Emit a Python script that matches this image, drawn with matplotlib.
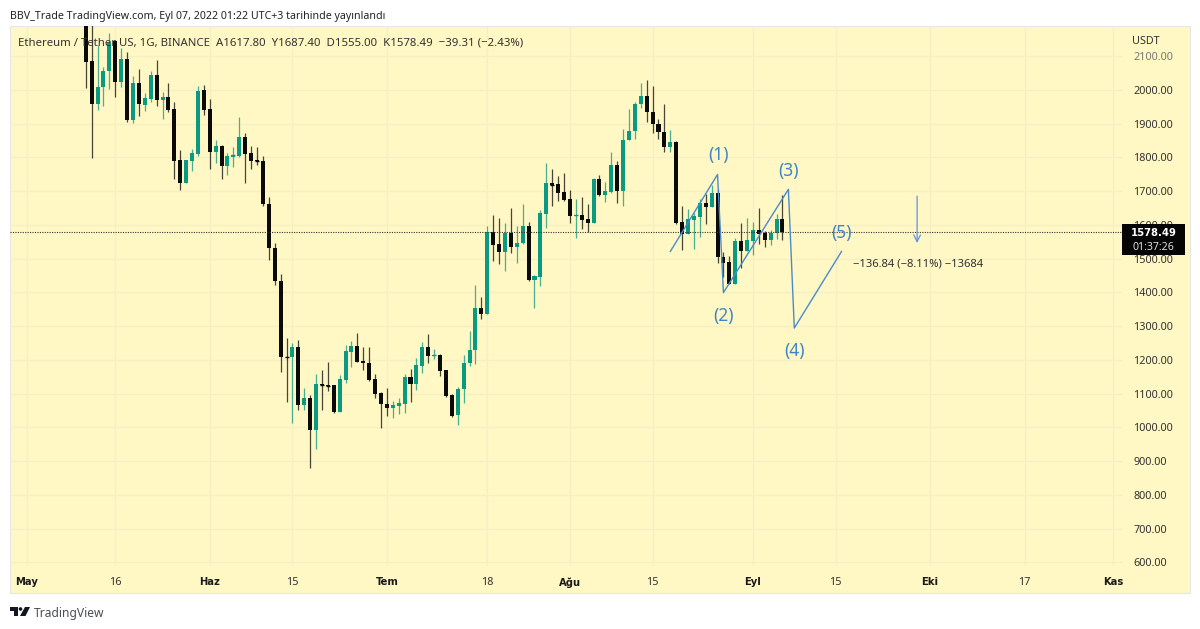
import matplotlib
matplotlib.use("Agg")
import matplotlib.pyplot as plt
from matplotlib.patches import Rectangle, Polygon

plt.rcParams['font.family'] = ['Noto Sans', 'DejaVu Sans']

# Candles: day number counted from 1 May, first visible candle is day 10
first_day = 10
opens = [2340,2085,1959,2008,2057,2144,2022,2090,1910,2019,1956,1973,2043,1971,1979,1942,1791,1724,1790,1810,1998,1942,1816,1832,1773,1802,1804,1859,1812,1791,1789,
 1661,1531,1433,1208,1207,1237,1066,1087,992,1128,1125,1124,1046,1140,1223,1241,1196,1191,1142,1101,1069,1056,1063,1070,1149,1129,1183,1237,1212,1215,1169,1096,1035,1112,1191,1229,1353,1337,
 1579,1542,1519,1577,1533,1545,1596,1436,1446,1632,1723,1721,1697,1675,1627,1629,1617,1606,1735,1688,1697,1776,1701,1851,1877,1957,1981,1934,1898,1876,1830,1845,1607,1574,
 1615,1622,1664,1653,1694,1506,1490,1424,1551,1522,1553,1584,1575,1554,1577,1617.80]
highs = [2450,2200,2133,2068,2167,2149,2123,2111,2041,2063,1991,2055,2088,1992,2021,1965,1821,1791,1826,2011,2013,1972,1851,1835,1814,1831,1918,1873,1834,1830,1804,
 1681,1547,1454,1266,1249,1258,1116,1096,1157,1169,1192,1126,1155,1244,1256,1278,1239,1238,1157,1105,1115,1077,1087,1159,1173,1204,1253,1276,1233,1217,1170,1098,1118,1213,1285,1422,1387,1596,
 1629,1620,1604,1651,1596,1663,1608,1452,1644,1784,1765,1744,1752,1704,1675,1683,1661,1740,1748,1727,1817,1788,1885,1942,1964,2019,2028,2012,1912,1958,1880,1847,1657,1646,
 1634,1676,1691,1718,1705,1518,1509,1560,1604,1619,1608,1650,1581,1584,1631,1687.40]
lows = [2006,1799,1940,1952,2001,1980,2007,1906,1902,1923,1937,1965,1952,1912,1935,1736,1703,1723,1759,1805,1926,1764,1782,1737,1747,1772,1802,1724,1764,1777,1657,
 1496,1423,1165,1075,1014,1051,1051,879,936,1051,1107,1042,1044,1131,1179,1193,1171,1136,1088,998,1032,1027,1039,1043,1075,1110,1162,1191,1203,1153,1091,1031,1007,1073,1182,1189,1320,1336,
 1494,1484,1462,1516,1488,1544,1434,1354,1420,1591,1656,1671,1671,1606,1560,1588,1580,1605,1685,1667,1693,1666,1655,1850,1853,1947,1905,1871,1853,1817,1817,1602,1524,1572,
 1528,1565,1603,1652,1486,1446,1424,1424,1473,1521,1511,1544,1533,1540,1557,1555.00]
closes = [2083,1959,2009,2057,2140,2022,2090,1910,2019,1957,1975,2043,1971,1979,1940,1790,1725,1791,1812,1997,1940,1816,1833,1773,1803,1806,1859,1811,1790,1788,1661,
 1531,1432,1207,1207,1237,1066,1087,992,1128,1124,1122,1045,1143,1225,1241,1194,1190,1140,1099,1068,1056,1065,1072,1149,1129,1184,1237,1212,1215,1167,1094,1034,1113,1191,1229,1353,1337,1580,
 1541,1519,1577,1534,1547,1596,1435,1448,1634,1723,1719,1695,1674,1627,1628,1615,1606,1735,1688,1699,1776,1701,1852,1878,1958,1981,1933,1898,1875,1831,1845,1606,1573,1617,
 1625,1665,1653,1694,1505,1488,1424,1552,1522,1554,1584,1573,1554,1577,1617,1578.49]

price_ticks = list(range(600, 2200, 100))
date_pos = [0, 15, 31, 45, 61, 78, 92, 106, 123, 137, 153, 169, 184]
date_labels = ['May', '16', 'Haz', '15', 'Tem', '18', 'Ağu', '15', 'Eyl', '15', 'Eki', '17', 'Kas']
month_labels = {'May', 'Haz', 'Tem', 'Ağu', 'Eyl', 'Eki', 'Kas'}

wave_days = [109, 117, 118, 129, 130, 138]
wave_prices = [1521, 1749, 1399, 1705, 1294, 1521]
wave_text = [('(1)', 117.1, 1807), ('(2)', 118, 1330), ('(3)', 129, 1759), ('(4)', 130, 1226), ('(5)', 138, 1576)]

BG = '#FFF7C4'; GRID = '#F6EFC2'; GREEN = '#0A9981'; BLACK = '#0A0A0A'; BLUE = '#3F86C8'; TXT = '#333333'

W, H = 1200, 629
fig = plt.figure(figsize=(12, 6.29), dpi=100, facecolor='white')
fig.add_artist(Rectangle((10/W, 1-593/H), 1180/W, 567/H, transform=fig.transFigure,
                         facecolor=BG, edgecolor='#E6E6E6', lw=0.8, zorder=-5))

ax = fig.add_axes([10/W, 1-566/H, 1112/W, 540/H], facecolor='none')
ax.set_xlim(-2.83, 185.5)
ax.set_ylim(589, 2189)
for s in ax.spines.values():
    s.set_visible(False)
ax.set_axisbelow(True)
ax.grid(True, color=GRID, lw=0.9)
ax.yaxis.tick_right()
ax.set_yticks(price_ticks)
ax.set_yticklabels([f'{p:.2f}' for p in price_ticks], fontsize=7.8, color=TXT)
ax.set_xticks(date_pos)
ax.set_xticklabels(date_labels, fontsize=7.8, color=TXT)
for t in ax.get_xticklabels():
    if t.get_text() in month_labels:
        t.set_fontfamily('DejaVu Sans')
        t.set_fontweight('bold')
        t.set_fontsize(7.2)
        t.set_color('#1A1A1A')
ax.get_yticklabels()[-1].set_color('#777777')
ax.tick_params(length=0)
ax.tick_params(axis='y', pad=8)
ax.tick_params(axis='x', pad=8)

n = min(len(opens), len(highs), len(lows), len(closes))
days = [first_day + i for i in range(n)]
cols = [GREEN if closes[i] >= opens[i] else BLACK for i in range(n)]
ax.vlines(days, lows[:n], highs[:n], colors=cols, lw=0.9, alpha=0.75, zorder=3)
ax.bar(days, [abs(closes[i]-opens[i]) for i in range(n)],
       bottom=[min(closes[i], opens[i]) for i in range(n)],
       width=0.68, color=cols, linewidth=0, zorder=4)
for i in range(n):
    if abs(closes[i]-opens[i]) < 5:
        ax.hlines(closes[i], days[i]-0.34, days[i]+0.34, color=cols[i], lw=1.0, zorder=4)

ax.axhline(closes[n-1], color='#333333', lw=0.8, ls=(0, (1, 1.2)), zorder=5)
ax.plot(wave_days, wave_prices, color='#4A8BCB', lw=1.0, zorder=6)
for s, d, p in wave_text:
    ax.text(d, p, s, color=BLUE, fontsize=12.5, ha='center', va='center', zorder=7)
ax.annotate('', xy=(150.8, 1546), xytext=(150.8, 1685),
            arrowprops=dict(arrowstyle='->', color='#5B93E8', lw=0.9, mutation_scale=12, shrinkA=0, shrinkB=0), zorder=7)
ax.text(139.9, 1484, '−136.84 (−8.11%) −13684', fontsize=8.1, color=TXT, ha='left', va='center', zorder=7)

# overlay in pixel coordinates for page furniture
ov = fig.add_axes([0, 0, 1, 1], facecolor='none')
ov.set_xlim(0, W); ov.set_ylim(H, 0); ov.axis('off')
ov.text(10, 16.5, 'BBV_Trade TradingView.com, Eyl 07, 2022 01:22 UTC+3 tarihinde yayınlandı',
        fontsize=7.65, color='#222222', va='center', ha='left')
ov.text(18, 43, 'Ethereum / Tether US, 1G, BINANCE  A1617.80  Y1687.40  D1555.00  K1578.49  −39.31 (−2.43%)',
        fontsize=8.2, color=TXT, va='center', ha='left')
ov.text(1132, 41.5, 'USDT', fontsize=7.8, color=TXT, va='center', ha='left')
ov.add_patch(Rectangle((1122, 224), 63, 31, facecolor='#050505', edgecolor='none'))
ov.text(1153.5, 233, '1578.49', fontsize=7.2, color='white', va='center', ha='center',
        fontweight='bold', family='DejaVu Sans')
ov.text(1153.5, 248, '01:37:26', fontsize=7.6, color='#DDDDDD', va='center', ha='center')
# TradingView mark
ov.add_patch(Polygon([(10, 607), (18, 607), (18, 616), (14, 616), (14, 611), (10, 611)], facecolor='#131722', edgecolor='none'))
ov.add_patch(Polygon([(25, 607), (30, 607), (25.5, 616), (20, 616)], facecolor='#131722', edgecolor='none'))
ov.add_patch(plt.Circle((20.5, 609), 1.8, facecolor='#131722', edgecolor='none'))
ov.text(33.5, 613, 'TradingView', fontsize=8.7, color='#4A4E59', va='center', ha='left')

fig.savefig('out.png', dpi=100, facecolor='white')
